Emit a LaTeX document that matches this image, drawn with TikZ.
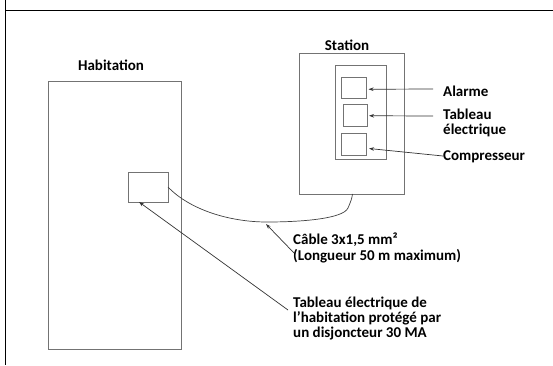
\documentclass[tikz,border=0pt]{standalone}
\usepackage{fontspec}
\setmainfont{Carlito}
\usetikzlibrary{arrows.meta}
\begin{document}
\begin{tikzpicture}[x=1pt,y=-1pt,
  box/.style={draw=black!55, line width=0.9pt, inner sep=0pt, outer sep=0pt, anchor=north west},
  lbl/.style={font=\bfseries\fontsize{15}{15}\selectfont, inner sep=0pt, align=left, anchor=west},
  arr/.style={draw=black!80, line width=0.7pt, -{Stealth[length=5pt,width=3.5pt]}},
  cable/.style={draw=black!75, line width=0.7pt},
  frameline/.style={line width=1.6pt}]
\useasboundingbox (0,0) rectangle (553,365);
\draw[frameline] (5.5,0) -- (5.5,365);
\draw[frameline] (5,10.5) -- (553,10.5);
% Habitation
\node[box, minimum width=133pt, minimum height=268pt] (hab) at (48,81) {};
\node[lbl, anchor=center] (habt) at (111,65) {Habitation};
\node[box, minimum width=40pt, minimum height=30pt] (hbox) at (128,172) {};
% Station
\node[box, minimum width=105pt, minimum height=141pt] (st) at (299,53) {};
\node[lbl, anchor=center] (stt) at (347,45) {Station};
\node[box, minimum width=51pt, minimum height=94pt] (inner) at (335,65) {};
\node[box, minimum width=25pt, minimum height=21.5pt] (b1) at (341,77) {};
\node[box, minimum width=24.5pt, minimum height=22.5pt] (b2) at (343,104) {};
\node[box, minimum width=25.5pt, minimum height=22pt] (b3) at (341,133.5) {};
% Labels right
\node[lbl] (alarme) at (443,91) {Alarme};
\node[lbl] (tab) at (443,122.5) {Tableau\\électrique};
\node[lbl] (comp) at (443,157) {Compresseur};
\coordinate (a1s) at (433,89);
\coordinate (a2s) at (433,116);
\coordinate (a3s) at (443,156);
\draw[arr] (a1s) -- ([shift={(2.5,1.5)}]b1.east);
\draw[arr] (a2s) -- ([shift={(1.5,0.5)}]b2.east);
\draw[arr] (a3s) -- ([shift={(2.5,4)}]b3.east);
% Cable
\draw[cable] (hbox.east) .. controls (190,210) and (230,222) .. (267,222)
  .. controls (300,222) and (343,219) .. (348,208)
  .. controls (351,201) and (352,198) .. ([xshift=1pt]st.south);
\coordinate (cabtip) at (266,224);
\coordinate (cabs) at (295,254);
\draw[arr] (cabs) -- (cabtip);
\node[lbl] (cablbl) at (293,248) {Câble 3x1,5 mm²\\[1pt](Longueur 50 m maximum)};
% Tableau habitation
\coordinate (hs) at (288,310);
\draw[arr] (hs) -- ([xshift=11pt]hbox.south west);
\node[lbl] (hlbl) at (293,318) {Tableau électrique de\\l’habitation protégé par\\un disjoncteur 30 MA};
\end{tikzpicture}
\end{document}
